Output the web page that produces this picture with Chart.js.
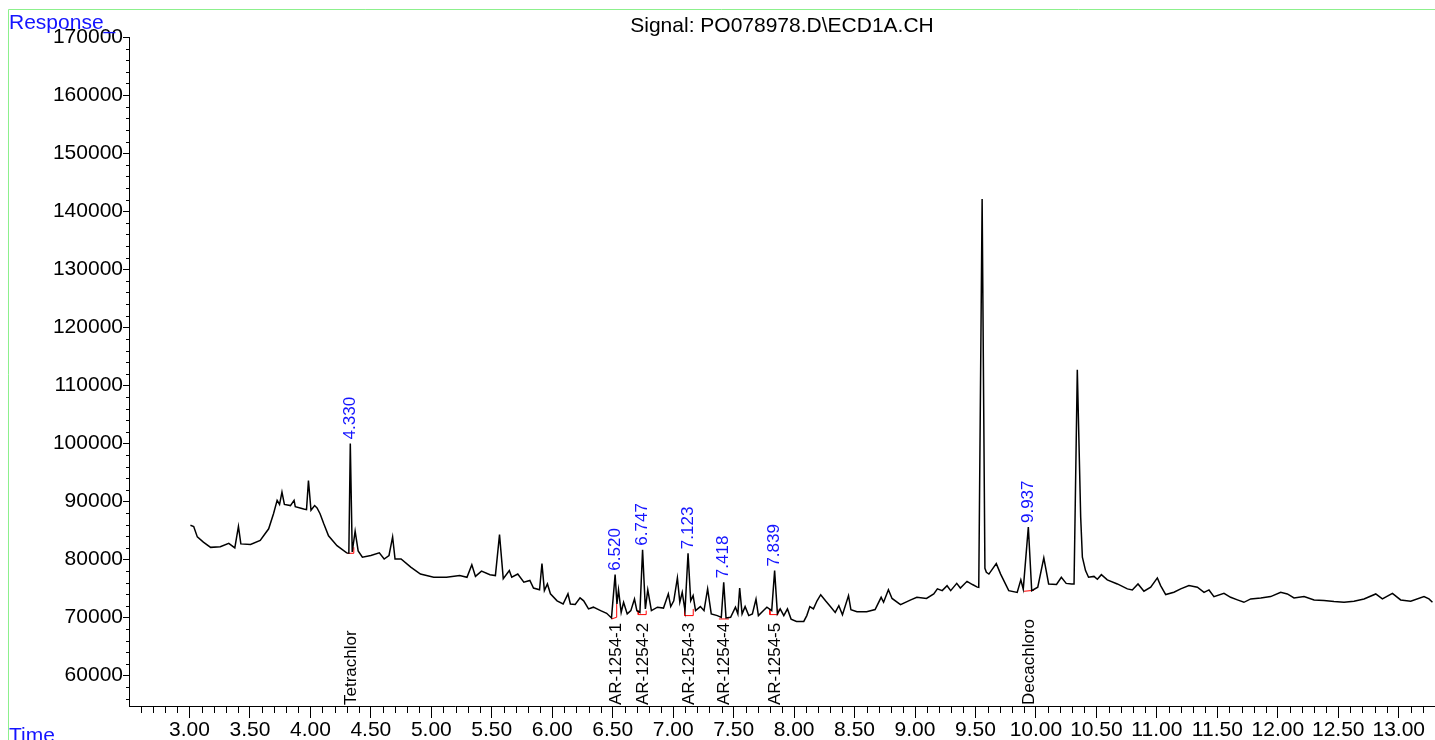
<!DOCTYPE html>
<html>
<head>
<meta charset="utf-8">
<script src="https://cdn.jsdelivr.net/npm/chart.js@4"></script>
<style>
  html, body { margin: 0; padding: 0; background: #fff; }
  canvas { display: block; }
</style>
</head>
<body>
<canvas id="myChart" width="1435" height="740"></canvas>
<script>
// retention time (min) and detector response
const timeMin = [
  3.008, 3.035, 3.065, 3.115, 3.175, 3.255, 3.325, 3.375, 3.405, 3.425,
  3.505, 3.585, 3.655, 3.695, 3.725, 3.745, 3.765, 3.785, 3.835, 3.865,
  3.875, 3.945, 3.968, 3.984, 4.005, 4.035, 4.055, 4.080, 4.110, 4.150,
  4.220, 4.300, 4.318, 4.330, 4.346, 4.370, 4.395, 4.430, 4.500, 4.570,
  4.610, 4.650, 4.680, 4.700, 4.750, 4.830, 4.910, 5.020, 5.125, 5.235,
  5.295, 5.335, 5.365, 5.415, 5.485, 5.530, 5.564, 5.595, 5.645, 5.665,
  5.715, 5.765, 5.815, 5.845, 5.895, 5.915, 5.935, 5.960, 5.985, 6.040,
  6.090, 6.130, 6.150, 6.190, 6.230, 6.260, 6.300, 6.340, 6.400, 6.450,
  6.490, 6.520, 6.535, 6.548, 6.570, 6.590, 6.620, 6.650, 6.680, 6.700,
  6.725, 6.747, 6.770, 6.790, 6.820, 6.870, 6.920, 6.960, 6.980, 7.005,
  7.035, 7.055, 7.075, 7.098, 7.123, 7.145, 7.165, 7.185, 7.225, 7.255,
  7.285, 7.315, 7.365, 7.398, 7.418, 7.437, 7.475, 7.515, 7.535, 7.550,
  7.570, 7.595, 7.625, 7.655, 7.685, 7.705, 7.745, 7.775, 7.815, 7.839,
  7.862, 7.885, 7.915, 7.945, 7.975, 8.020, 8.080, 8.105, 8.130, 8.160,
  8.190, 8.220, 8.260, 8.300, 8.340, 8.370, 8.400, 8.450, 8.470, 8.520,
  8.600, 8.670, 8.720, 8.740, 8.780, 8.810, 8.880, 8.965, 9.015, 9.095,
  9.155, 9.185, 9.225, 9.265, 9.295, 9.345, 9.375, 9.430, 9.475, 9.515,
  9.527, 9.555, 9.578, 9.590, 9.611, 9.672, 9.708, 9.775, 9.845, 9.875,
  9.895, 9.937, 9.965, 10.015, 10.065, 10.105, 10.170, 10.210, 10.250, 10.295,
  10.315, 10.342, 10.370, 10.384, 10.410, 10.435, 10.480, 10.508, 10.541, 10.590,
  10.673, 10.756, 10.797, 10.844, 10.893, 10.949, 11.004, 11.031, 11.073, 11.141,
  11.197, 11.265, 11.335, 11.390, 11.431, 11.472, 11.555, 11.610, 11.666, 11.720,
  11.776, 11.859, 11.941, 12.024, 12.079, 12.134, 12.217, 12.300, 12.382, 12.465,
  12.548, 12.630, 12.713, 12.810, 12.865, 12.948, 13.016, 13.099, 13.209, 13.250,
  13.279
];
const response = [
  85900, 85700, 83900, 83000, 82100, 82200, 82800, 82000, 85700, 82700,
  82600, 83300, 85300, 87900, 90200, 89500, 91600, 89500, 89300, 90200,
  89100, 88700, 88600, 93600, 88500, 89300, 88900, 87900, 86200, 84100,
  82400, 81150, 81100, 100000, 81300, 84900, 81500, 80400, 80700, 81150,
  80100, 80700, 83900, 80100, 80100, 78700, 77500, 76950, 76950, 77250,
  76950, 79100, 77100, 78000, 77400, 77250, 84300, 76700, 78100, 76950,
  77500, 76100, 76400, 75100, 74800, 79300, 74650, 75800, 74100, 72900,
  72350, 74100, 72350, 72250, 73400, 72900, 71500, 71800, 71200, 70750,
  69950, 77400, 72350, 74800, 70900, 72650, 70650, 71200, 73200, 71200,
  70900, 81700, 71500, 74800, 71200, 71800, 71650, 74100, 71900, 72900,
  76850, 72650, 74350, 71200, 81100, 72900, 73800, 71200, 71900, 71200,
  74950, 70650, 70350, 70050, 76100, 69950, 70050, 71800, 70650, 75100,
  70650, 71900, 70350, 70650, 73200, 70350, 71200, 71800, 71200, 78100,
  70650, 71500, 70350, 71500, 69750, 69350, 69350, 70350, 71900, 71500,
  72900, 73950, 72900, 71900, 70900, 72050, 70500, 73800, 71350, 71000,
  71000, 71400, 73500, 72650, 74800, 73300, 72250, 73050, 73500, 73300,
  74100, 74950, 74650, 75500, 74650, 75900, 75100, 76250, 75700, 75250,
  75200, 142100, 78500, 77800, 77500, 79300, 77500, 74650, 74350, 76500,
  74900, 85600, 74650, 75250, 80300, 75800, 75700, 76950, 75900, 75800,
  75800, 112700, 87300, 80400, 78100, 76950, 77100, 76600, 77400, 76500,
  75800, 74950, 74770, 75800, 74540, 75230, 76840, 75520, 73970, 74370,
  74950, 75520, 75230, 74360, 74770, 73620, 74190, 73500, 73050, 72640,
  73220, 73390, 73620, 74360, 74080, 73390, 73620, 73050, 72930, 72760,
  72640, 72810, 73220, 74080, 73220, 74190, 73050, 72810, 73620, 73220,
  72640
];

// integrated peaks
const peakTimes = [4.330, 6.520, 6.747, 7.123, 7.418, 7.839, 9.937];
const peakTops = [100000, 77400, 81700, 81100, 76100, 78100, 85600];
const peakLabels = ["4.330", "6.520", "6.747", "7.123", "7.418", "7.839", "9.937"];
const compoundNames = ["Tetrachlor", "AR-1254-1", "AR-1254-2", "AR-1254-3", "AR-1254-4", "AR-1254-5", "Decachloro"];

// red integration baselines (null breaks a segment)
const baseTimes = [
  4.305, 4.359, 4.359, 4.359,
  6.490, 6.533, 6.533, 6.533,
  6.711, 6.711, 6.777, 6.777, 6.777,
  7.094, 7.094, 7.166, 7.166, 7.166,
  7.378, 7.461, 7.461,
  7.800, 7.800, 7.866, 7.866, 7.866,
  9.901, 9.984
];
const baseValues = [
  81080, 81080, 82120, null,
  69770, 70060, 72400, null,
  71210, 70520, 70520, 71210, null,
  71900, 70350, 70350, 71500, null,
  69770, 69770, null,
  71500, 70520, 70520, 71500, null,
  74540, 74700
];

const xTicks = [];
for (let t = 3; t <= 13.001; t += 0.5) xTicks.push(Math.round(t * 10) / 10);
const yTicks = [];
for (let v = 60000; v <= 170000; v += 10000) yTicks.push(v);

const blue = "rgb(20,20,255)";
const fontFam = "'Liberation Sans', Arial, sans-serif";

function vText(c, text, x, y, color, size) {
  c.save();
  c.translate(x, y);
  c.rotate(-Math.PI / 2);
  c.fillStyle = color;
  c.font = size + "px " + fontFam;
  c.textAlign = "left";
  c.textBaseline = "middle";
  c.fillText(text, 0, 0);
  c.restore();
}

const decor = {
  id: "decor",
  beforeDraw(chart) {
    const c = chart.ctx;
    c.save();
    c.fillStyle = "#fff";
    c.fillRect(0, 0, chart.width, chart.height);
    c.strokeStyle = "rgb(140,240,140)";
    c.lineWidth = 1;
    c.beginPath();
    c.moveTo(8.5, chart.height);
    c.lineTo(8.5, 9.5);
    c.lineTo(chart.width, 9.5);
    c.stroke();
    c.restore();
  },
  afterDraw(chart) {
    const c = chart.ctx;
    const xs = chart.scales.x, ys = chart.scales.y;
    const area = chart.chartArea;
    c.save();
    // minor ticks
    c.strokeStyle = "#000";
    c.lineWidth = 1;
    c.beginPath();
    for (let i = 26; i <= 133; i++) {
      if (i % 5 === 0) continue;
      const px = Math.round(xs.getPixelForValue(i / 10)) + 0.5;
      c.moveTo(px, area.bottom);
      c.lineTo(px, area.bottom + 7);
    }
    for (let v = 56000; v < 170000; v += 2000) {
      if (v % 10000 === 0) continue;
      const py = Math.round(ys.getPixelForValue(v)) + 0.5;
      c.moveTo(area.left - 3, py);
      c.lineTo(area.left, py);
    }
    c.stroke();

    // peak labels
    peakTimes.forEach((t, i) => {
      const px = xs.getPixelForValue(t);
      vText(c, peakLabels[i], px, ys.getPixelForValue(peakTops[i]) - 4, blue, 17);
      vText(c, compoundNames[i], px + 1, area.bottom - 1, "#000", 17);
    });

    // title and axis names
    c.fillStyle = "#000";
    c.font = "21px " + fontFam;
    c.textAlign = "center";
    c.textBaseline = "alphabetic";
    c.fillText("Signal: PO078978.D\\ECD1A.CH", (area.left + area.right) / 2, 32);
    c.fillStyle = blue;
    c.font = "21px " + fontFam;
    c.textAlign = "left";
    c.fillText("Response_", 9, 29);
    c.fillText("Time", 9, 742);
    c.restore();
  }
};

const ctx = document.getElementById("myChart").getContext("2d");
const myChart = new Chart(ctx, {
  type: "line",
  data: {
    datasets: [
      {
        data: timeMin.map((t, i) => ({ x: t, y: response[i] })),
        borderColor: "#000",
        borderWidth: 1.5,
        pointRadius: 0,
        tension: 0
      },
      {
        data: baseTimes.map((t, i) => ({ x: t, y: baseValues[i] })),
        borderColor: "rgb(255,0,0)",
        borderWidth: 1,
        pointRadius: 0,
        tension: 0,
        spanGaps: false
      }
    ]
  },
  options: {
    responsive: false,
    animation: false,
    devicePixelRatio: 1,
    layout: { padding: { top: 37, left: 0, right: 0, bottom: 0 } },
    plugins: { legend: { display: false }, tooltip: { enabled: false } },
    scales: {
      x: {
        type: "linear",
        min: 2.5,
        max: 13.3,
        afterBuildTicks: (s) => { s.ticks = xTicks.map((v) => ({ value: v })); },
        afterFit: (s) => { s.height = 34; },
        grid: { drawOnChartArea: false, tickLength: 12, color: "#000" },
        border: { color: "#000", width: 1 },
        ticks: {
          color: "#000",
          font: { family: fontFam, size: 21 },
          padding: 0,
          maxRotation: 0,
          autoSkip: false,
          callback: (v) => Number(v).toFixed(2)
        }
      },
      y: {
        min: 54780,
        max: 170000,
        afterBuildTicks: (s) => { s.ticks = yTicks.map((v) => ({ value: v })); },
        afterFit: (s) => { s.width = 129; },
        grid: { drawOnChartArea: false, tickLength: 6, color: "#000" },
        border: { color: "#000", width: 1 },
        ticks: {
          color: "#000",
          font: { family: fontFam, size: 21 },
          padding: 0,
          callback: (v) => String(v)
        }
      }
    }
  },
  plugins: [decor]
});
</script>
</body>
</html>
